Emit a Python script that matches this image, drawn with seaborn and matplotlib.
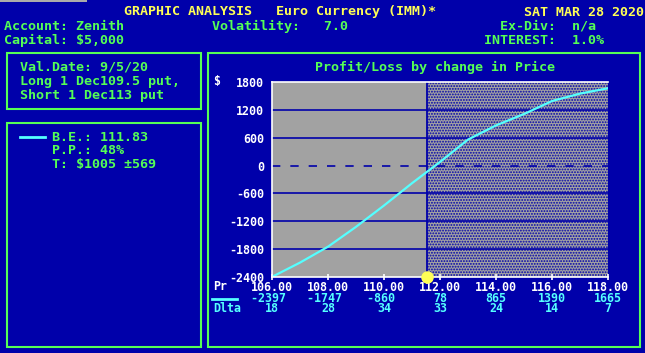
import matplotlib
matplotlib.use('Agg')
import matplotlib.pyplot as plt
import seaborn as sns
from matplotlib.patches import Rectangle
from matplotlib.lines import Line2D

# P/L curve
price = [106, 107, 108, 109, 110, 111, 112, 113, 114, 115, 116, 117, 118]
profit = [-2397, -2090, -1747, -1320, -860, -380, 78, 560, 865, 1110, 1390, 1550, 1665]

# table under the chart
table_price = [106, 108, 110, 112, 114, 116, 118]
table_pl = [-2397, -1747, -860, 78, 865, 1390, 1665]
table_delta = [18, 28, 34, 33, 24, 14, 7]

y_ticks = [1800, 1200, 600, 0, -600, -1200, -1800, -2400]
current_price = 111.55

BLUE = '#0000AA'
GREEN = '#55FF55'
YELLOW = '#FFFF55'
CYAN = '#55FFFF'
WHITE = '#FFFFFF'
GRAY = '#A2A2A2'
MONO = 'DejaVu Sans Mono'
SMALL = 8.4

plt.rcParams['hatch.linewidth'] = 0.9

W, H = 645, 353
fig = plt.figure(figsize=(W / 100, H / 100), dpi=100, facecolor=BLUE)


def put(x, y, s, color, size=9.6, ha='left'):
    fig.text(x / W, 1 - y / H, s, color=color, fontsize=size, family=MONO,
             weight='bold', ha=ha, va='center')


def box(x0, y0, x1, y1):
    fig.add_artist(Rectangle((x0 / W, 1 - y1 / H), (x1 - x0) / W, (y1 - y0) / H,
                             transform=fig.transFigure, fill=False,
                             ec=GREEN, lw=1.5))


def hline(x0, x1, y, color, lw):
    fig.add_artist(Line2D([x0 / W, x1 / W], [1 - y / H, 1 - y / H],
                          transform=fig.transFigure, color=color, lw=lw))


# header
fig.add_artist(Rectangle((0, 1 - 2 / H), 87 / W, 2 / H, transform=fig.transFigure,
                         color='#AAAAAA', lw=0))
put(124, 12, 'GRAPHIC ANALYSIS   Euro Currency (IMM)*', YELLOW)
put(524, 12, 'SAT MAR 28 2020', YELLOW)
put(4, 26, 'Account: Zenith', GREEN)
put(212, 26, 'Volatility:   7.0', GREEN)
put(500, 26, 'Ex-Div:  n/a', GREEN)
put(4, 40, 'Capital: $5,000', GREEN)
put(484, 40, 'INTEREST:  1.0%', GREEN)

# left panels
box(7, 53, 201, 109)
put(20, 67, 'Val.Date: 9/5/20', GREEN)
put(20, 81, 'Long 1 Dec109.5 put,', GREEN)
put(20, 95, 'Short 1 Dec113 put', GREEN)

box(7, 123, 201, 347)
hline(20, 45, 137, CYAN, 2)
put(52, 137, 'B.E.: 111.83', GREEN)
put(52, 151, 'P.P.: 48%', GREEN)
put(52, 165, 'T: $1005 \u00b1569', GREEN)

# chart panel
box(208, 53, 640, 347)
put(435, 67, 'Profit/Loss by change in Price', GREEN, ha='center')

ax = fig.add_axes([272 / W, 1 - 277 / H, 336 / W, 195 / H])
ax.set_facecolor(GRAY)
ax.axvspan(current_price, 118, facecolor=GRAY, edgecolor=BLUE, hatch='......', lw=0)
for v in y_ticks[1:-1]:
    ax.axhline(v, color=BLUE, lw=1.2, ls=(0, (5, 6)) if v == 0 else '-')
ax.axvline(current_price, color=BLUE, lw=1.3)

sns.lineplot(x=price, y=profit, color=CYAN, lw=1.6, ax=ax)
ax.plot([current_price], [-2400], 'o', color=YELLOW, ms=8, clip_on=False, zorder=5)

ax.set_xlim(106, 118)
ax.set_ylim(-2400, 1800)
ax.set_yticks(y_ticks)
ax.set_yticklabels([str(v) for v in y_ticks])
ax.set_xticks(table_price)
ax.set_xticklabels([f'{p:.2f}' for p in table_price])
ax.tick_params(axis='y', length=0, pad=5.5, colors=WHITE, labelsize=SMALL)
ax.tick_params(axis='x', direction='inout', length=4, width=1.2, pad=1,
               colors=WHITE, labelsize=SMALL)
for lab in ax.get_xticklabels() + ax.get_yticklabels():
    lab.set_family(MONO)
    lab.set_weight('bold')
for side in ['top', 'left', 'bottom']:
    ax.spines[side].set_color(WHITE)
    ax.spines[side].set_linewidth(1.2)
ax.spines['right'].set_visible(False)

put(213, 82, '$', WHITE, size=SMALL)
put(213, 287, 'Pr', WHITE, size=SMALL)
hline(212, 237, 298.5, CYAN, 2)
put(213, 309, 'Dlta', CYAN, size=SMALL)

trans = ax.get_xaxis_transform()
for p, pl, d in zip(table_price, table_pl, table_delta):
    # keep digits centred on the tick, minus sign hangs left
    s = f'{pl} ' if pl < 0 else str(pl)
    ax.text(p, (277 - 298.5) / 195, s, transform=trans, ha='center', va='center',
            color=CYAN, fontsize=SMALL, family=MONO, weight='bold')
    ax.text(p, (277 - 309) / 195, str(d), transform=trans, ha='center', va='center',
            color=CYAN, fontsize=SMALL, family=MONO, weight='bold')

fig.savefig('out.png', dpi=100, facecolor=BLUE)
